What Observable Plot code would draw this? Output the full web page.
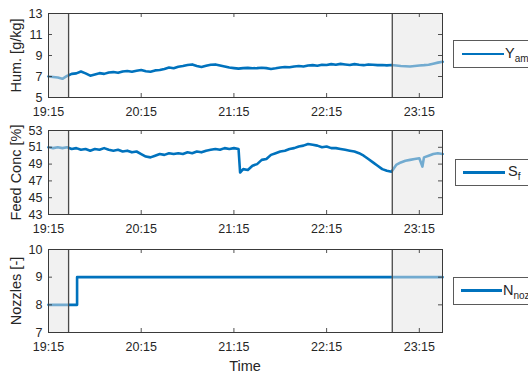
<!DOCTYPE html>
<html><head><meta charset="utf-8">
<script src="https://cdn.jsdelivr.net/npm/d3@7"></script>
<script src="https://cdn.jsdelivr.net/npm/@observablehq/plot@0.6"></script>
<style>
body{margin:0;background:#fff;}
#wrap{position:relative;width:528px;height:374px;overflow:hidden;background:#fff;font-family:"Liberation Sans",Arial,sans-serif;color:#262626;}
.panel{position:absolute;left:0;}
.leg{position:absolute;width:120px;border:1px solid #5a5a5a;background:#fff;box-sizing:border-box;}
.leg .ln{position:absolute;height:2.6px;background:#0072BD;}
.leg .tx{position:absolute;font-size:14.5px;line-height:1;white-space:nowrap;}
.leg sub{font-size:10px;vertical-align:-4px;}
#timeLbl{position:absolute;left:0;width:490px;text-align:center;top:358px;font-size:14.5px;}
</style></head><body><div id="wrap"></div>
<script>
// x positions: minutes after 19:15
const tickMinutes = [0, 60, 120, 180, 240];
const tickLabels = ["19:15", "20:15", "21:15", "22:15", "23:15"];
const shadeStart = [0, 222.5];
const shadeEnd = [13, 255];

const humT = [0,3,6,9,12,15,18,21,24,27,30,33,36,39,42,45,48,51,54,57,60,63,66,69,72,75,78,81,84,87,90,93,96,99,102,105,108,111,114,117,120,123,126,129,132,135,138,141,144,147,150,153,156,159,162,165,168,171,174,177,180,183,186,189,192,195,198,201,204,207,210,213,216,219,222,225,228,231,234,237,240,243,246,249,252,255];
const humV = [7.00,6.95,6.90,6.78,7.05,7.25,7.30,7.48,7.30,7.08,7.20,7.32,7.25,7.38,7.42,7.35,7.48,7.52,7.45,7.55,7.62,7.50,7.45,7.58,7.62,7.72,7.85,7.78,7.92,8.00,8.10,8.15,8.00,7.90,8.02,8.12,8.15,8.05,7.95,7.85,7.80,7.75,7.80,7.82,7.78,7.80,7.84,7.80,7.72,7.78,7.85,7.90,7.88,7.95,8.00,7.96,8.05,8.08,8.02,8.12,8.10,8.18,8.12,8.20,8.15,8.10,8.18,8.12,8.08,8.15,8.12,8.08,8.10,8.06,8.10,8.05,8.00,7.98,7.95,8.00,8.05,8.08,8.12,8.22,8.32,8.40];

const feedT = [0,3,6,9,12,15,18,21,24,27,30,33,36,39,42,45,48,51,54,57,60,63,66,69,72,75,78,81,84,87,90,93,96,99,102,105,108,111,114,117,120,123,124,126,129,132,135,138,141,144,147,150,153,156,159,162,165,168,171,174,177,180,183,186,189,192,195,198,201,204,207,210,213,216,219,222,225,228,231,234,237,240,242,243,246,249,252,255];
const feedV = [51.0,50.9,51.0,50.9,51.0,50.8,50.9,50.7,50.8,50.6,50.8,50.7,50.9,50.7,50.6,50.7,50.5,50.6,50.4,50.5,50.2,49.9,49.8,50.0,50.2,50.1,50.3,50.2,50.3,50.2,50.4,50.3,50.5,50.4,50.6,50.7,50.8,50.7,50.9,50.8,50.9,50.8,48.0,48.4,48.3,48.8,49.0,49.5,49.6,50.1,50.3,50.5,50.6,50.8,50.9,51.1,51.2,51.4,51.3,51.2,51.0,51.1,50.9,50.9,50.8,50.7,50.6,50.5,50.3,50.0,49.6,49.2,48.8,48.4,48.2,48.1,48.9,49.2,49.4,49.5,49.6,49.7,48.7,49.8,50.0,50.2,50.3,50.2];

const nozT = [0, 18.5, 255];
const nozV = [8, 9, 9];

const legends = [
  {main: "Y", sub: "amb"},
  {main: "S", sub: "f"},
  {main: "N", sub: "noz"}
];

const font = '"Liberation Sans", Arial, sans-serif';
const wrap = document.getElementById("wrap");

function panel({top, frameH, t, v, yDomain, yTicks, label, curve}) {
  const W = 528, ml = 48, mr = 86, mt = 13, mb = 22;
  const innerW = W - ml - mr;
  const tk = 4;
  const data = t.map((d, i) => ({t: d, v: v[i]}));
  const shades = shadeStart.map((s, i) => ({s, e: shadeEnd[i]}));
  const p = Plot.plot({
    width: W, height: mt + frameH + mb,
    marginLeft: ml, marginRight: mr, marginTop: mt, marginBottom: mb,
    style: {fontFamily: font, fontSize: "12.5px", color: "#262626", background: "transparent", overflow: "visible"},
    x: {domain: [0, 255]},
    y: {domain: yDomain},
    marks: [
      Plot.lineY(data, {x: "t", y: "v", stroke: "#0072BD", strokeWidth: 2.6, curve: curve || "linear"}),
      Plot.barX(shades, {x1: "s", x2: "e", fill: "#e4e4e4", fillOpacity: 0.5}),
      Plot.ruleX([shadeEnd[0], shadeStart[1]], {stroke: "#4a4a4a", strokeWidth: 1.3}),
      Plot.ruleX(tickMinutes, {insetTop: frameH - tk, stroke: "#262626", strokeWidth: 0.8}),
      Plot.ruleX(tickMinutes, {insetBottom: frameH - tk, stroke: "#262626", strokeWidth: 0.8}),
      Plot.ruleY(yTicks, {insetLeft: innerW - tk, stroke: "#262626", strokeWidth: 0.8}),
      Plot.ruleY(yTicks, {insetRight: innerW - tk, stroke: "#262626", strokeWidth: 0.8}),
      Plot.frame({stroke: "#3a3a3a", strokeWidth: 1}),
      Plot.axisX(tickMinutes, {tickSize: 0, tickPadding: 10, label: null, fill: "#262626",
        tickFormat: d => tickLabels[tickMinutes.indexOf(d)]}),
      Plot.axisY(yTicks, {tickSize: 0, tickPadding: 6, label: null, fill: "#262626"}),
      Plot.text([label], {frameAnchor: "left", rotate: -90, dx: -32, textAnchor: "middle",
        fontSize: 14.5, fill: "#262626", text: d => d})
    ]
  });
  p.classList.add("panel");
  p.style.top = top + "px";
  wrap.appendChild(p);
}

panel({top: 0, frameH: 84, t: humT, v: humV, yDomain: [5, 13], yTicks: [5, 7, 9, 11, 13], label: "Hum. [g/kg]"});
panel({top: 117, frameH: 84, t: feedT, v: feedV, yDomain: [43, 53], yTicks: [43, 45, 47, 49, 51, 53], label: "Feed Conc [%]"});
panel({top: 236, frameH: 83, t: nozT, v: nozV, yDomain: [7, 10], yTicks: [7, 8, 9, 10], label: "Nozzles [-]", curve: "step-after"});

const legPos = [
  {left: 453, top: 40, h: 28, l0: 462, l1: 504, tx: 505},
  {left: 455, top: 158.5, h: 27.5, l0: 463, l1: 505, tx: 508},
  {left: 453, top: 277, h: 27.5, l0: 461, l1: 502, tx: 503}
];
legends.forEach((lg, i) => {
  const p = legPos[i];
  const box = document.createElement("div");
  box.className = "leg";
  box.style.left = p.left + "px"; box.style.top = p.top + "px"; box.style.height = p.h + "px";
  const ln = document.createElement("div");
  ln.className = "ln";
  ln.style.left = (p.l0 - p.left - 1) + "px"; ln.style.width = (p.l1 - p.l0) + "px";
  ln.style.top = (p.h / 2 - 2.3) + "px";
  box.appendChild(ln);
  const tx = document.createElement("div");
  tx.className = "tx";
  tx.style.left = (p.tx - p.left - 1) + "px";
  tx.style.top = (p.h / 2 - 9) + "px";
  tx.innerHTML = lg.main + "<sub>" + lg.sub + "</sub>";
  box.appendChild(tx);
  wrap.appendChild(box);
});

const tl = document.createElement("div");
tl.id = "timeLbl";
tl.textContent = "Time";
wrap.appendChild(tl);
</script>
</body></html>
